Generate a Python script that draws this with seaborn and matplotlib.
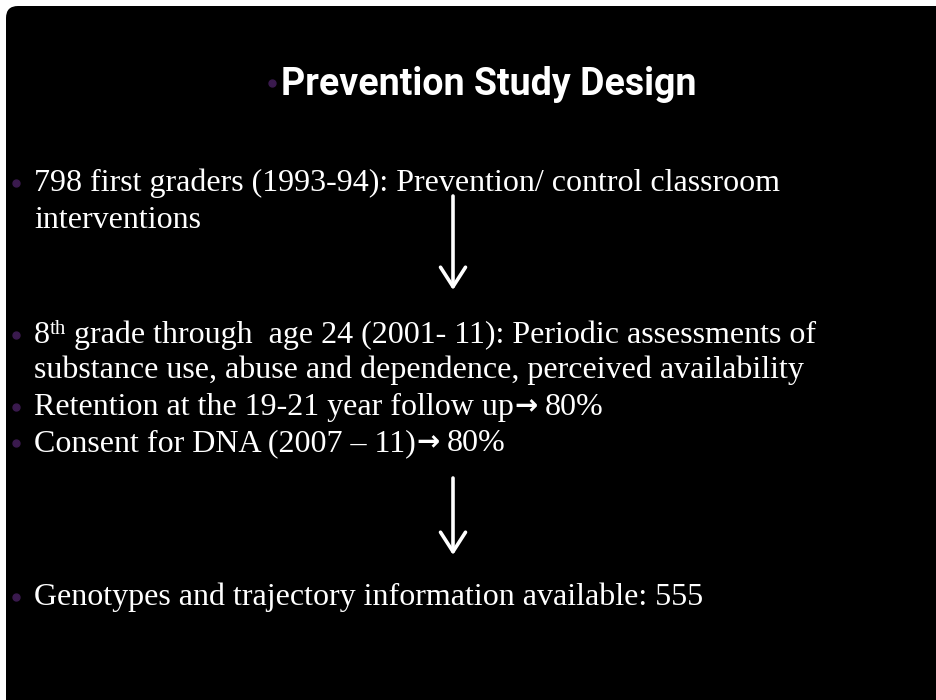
import matplotlib
matplotlib.use("Agg")
import matplotlib.pyplot as plt
import seaborn as sns
from matplotlib.patches import FancyBboxPatch

sns.set_style("white")

# slide content; "->" marks the bold arrow sign, ^..^ marks superscript
title = "Prevention Study Design"
lines = [
    "798 first graders (1993-94): Prevention/ control classroom",
    "interventions",
    "8^th^ grade through  age 24 (2001- 11): Periodic assessments of",
    "substance use, abuse and dependence, perceived availability",
    "Retention at the 19-21 year follow up->80%",
    "Consent for DNA (2007 \u2013 11)->80%",
    "Genotypes and trajectory information available: 555",
]
has_bullet = [True, False, True, False, True, True, True]
baselines = [191, 228, 343, 378, 415, 451, 605]
arrows = [(196, 290), (478, 555)]

bullet_color = "#3a1a4e"
serif = ["Liberation Serif", "DejaVu Serif"]

fig = plt.figure(figsize=(9.36, 7), dpi=100)
ax = fig.add_axes([0, 0, 1, 1])
ax.set_xlim(0, 936)
ax.set_ylim(700, 0)
ax.axis("off")
fig.patch.set_facecolor("white")
renderer = fig.canvas.get_renderer()

# black slide panel with rounded top-left corner
panel = FancyBboxPatch((6, 6), 960, 720, boxstyle="round,pad=0,rounding_size=12",
                       facecolor="black", edgecolor="none")
ax.add_patch(panel)

# title
ax.plot(272, 83, "o", color=bullet_color, markersize=5)
ax.text(489, 95, title, color="white", fontsize=27, fontweight="bold",
        family="Roboto", ha="center", va="baseline")


def right_edge(t):
    bb = t.get_window_extent(renderer=renderer)
    return ax.transData.inverted().transform((bb.x1, bb.y0))[0]


# body
for txt, b, y in zip(lines, has_bullet, baselines):
    if b:
        ax.plot(16, y - 8, "o", color=bullet_color, markersize=5)
    x = 34
    for i, seg in enumerate(txt.split("^")):
        if i % 2 == 1:
            s = ax.text(x, y - 9, seg, color="white", fontsize=15, family=serif,
                        ha="left", va="baseline")
            x = right_edge(s)
            continue
        for j, p in enumerate(seg.split("->")):
            if j > 0:
                a = ax.text(x + 1, y - 1, "\u2192", color="white", fontsize=20,
                            fontweight="bold", family="DejaVu Sans",
                            ha="left", va="baseline")
                x = right_edge(a) + 7
            t = ax.text(x, y, p, color="white", fontsize=23, family=serif,
                        ha="left", va="baseline")
            x = right_edge(t)

for y0, y1 in arrows:
    ax.annotate("", xy=(453, y1), xytext=(453, y0),
                arrowprops=dict(arrowstyle="->,head_length=0.7,head_width=0.45",
                                color="white", lw=2.6, mutation_scale=20,
                                shrinkA=0, shrinkB=0))

fig.savefig("out.png", dpi=100, facecolor=fig.get_facecolor())
